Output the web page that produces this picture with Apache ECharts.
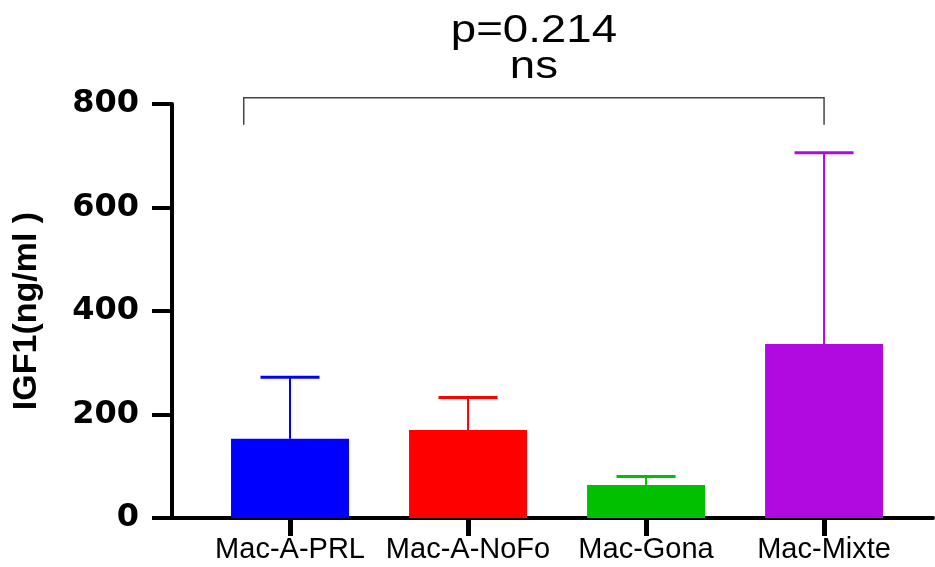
<!DOCTYPE html>
<html>
<head>
<meta charset="utf-8">
<script src="https://cdn.jsdelivr.net/npm/echarts@6/dist/echarts.min.js"></script>
<style>
  html, body { margin: 0; padding: 0; background: #fff; }
  #chart { width: 935px; height: 567px; }
</style>
</head>
<body>
<div id="chart"></div>
<script>
// ---- data ----
const CATEGORIES = ['Mac-A-PRL', 'Mac-A-NoFo', 'Mac-Gona', 'Mac-Mixte'];
const MEANS = [153, 170, 64, 336];
const UPPER = [272, 233, 80, 706];
const COLORS = ['#0000FF', '#FF0000', '#00C000', '#B00AE0'];
const Y_TICKS = [0, 200, 400, 600, 800];
const Y_NAME = 'IGF1(ng/ml )';
const P_TEXT = 'p=0.214';
const SIG_TEXT = 'ns';
// comparison bracket: from x, to x, top value, leg bottom value
const BRACKET = [[-0.26, 3, 812, 760]];

const CAT_POS = CATEGORIES.map((c, i) => i);

const chart = echarts.init(document.getElementById('chart'), null, { renderer: 'canvas' });

const option = {
  backgroundColor: '#ffffff',
  animation: false,
  grid: { left: 172, right: 2, top: 104, bottom: 49, containLabel: false, outerBoundsMode: 'none' },
  xAxis: {
    type: 'value',
    min: -0.663,
    max: 3.612,
    axisLine: { show: true, onZero: false, lineStyle: { color: '#000', width: 4 } },
    axisTick: { show: true, customValues: CAT_POS, length: 18, lineStyle: { color: '#000', width: 5 } },
    axisLabel: {
      customValues: CAT_POS,
      formatter: v => CATEGORIES[Math.round(v)],
      margin: 17,
      color: '#000',
      fontFamily: '"Liberation Sans", Arial, sans-serif',
      fontSize: 29
    },
    splitLine: { show: false }
  },
  yAxis: {
    type: 'value',
    min: Y_TICKS[0],
    max: Y_TICKS[Y_TICKS.length - 1],
    interval: Y_TICKS[1] - Y_TICKS[0],
    name: Y_NAME,
    nameLocation: 'middle',
    nameRotate: 90,
    nameGap: 128,
    nameTextStyle: {
      color: '#000',
      fontFamily: '"Liberation Sans", Arial, sans-serif',
      fontWeight: 'bold',
      fontSize: 34
    },
    axisLine: { show: true, onZero: false, lineStyle: { color: '#000', width: 4 } },
    axisTick: { show: true, length: 20, lineStyle: { color: '#000', width: 4 } },
    axisLabel: {
      margin: 33,
      color: '#000',
      fontFamily: '"DejaVu Sans", sans-serif',
      fontWeight: 'bold',
      fontSize: 32
    },
    splitLine: { show: false }
  },
  series: [
    {
      type: 'bar',
      barWidth: 118,
      data: MEANS.map((m, i) => ({ value: [i, m], itemStyle: { color: COLORS[i] } })),
      z: 2
    },
    {
      type: 'custom',
      clip: false,
      z: 3,
      data: UPPER.map((u, i) => [i, MEANS[i], u]),
      renderItem: function (params, api) {
        const x = api.value(0);
        const p0 = api.coord([x, api.value(1)]);
        const p1 = api.coord([x, api.value(2)]);
        const half = 29.5;
        const color = COLORS[params.dataIndex];
        return {
          type: 'group',
          children: [
            { type: 'line', shape: { x1: p0[0], y1: p0[1], x2: p1[0], y2: p1[1] },
              style: { stroke: color, lineWidth: 2 } },
            { type: 'line', shape: { x1: p1[0] - half, y1: p1[1], x2: p1[0] + half, y2: p1[1] },
              style: { stroke: color, lineWidth: 3 } }
          ]
        };
      }
    },
    {
      type: 'custom',
      clip: false,
      z: 4,
      data: BRACKET,
      renderItem: function (params, api) {
        const a = api.coord([api.value(0), api.value(2)]);
        const b = api.coord([api.value(1), api.value(2)]);
        const aBot = api.coord([api.value(0), api.value(3)]);
        const cx = (a[0] + b[0]) / 2;
        const top = a[1];
        const font = '39px "Liberation Sans", Arial, sans-serif';
        return {
          type: 'group',
          children: [
            { type: 'polyline',
              shape: { points: [[a[0], aBot[1]], [a[0], top], [b[0], top], [b[0], aBot[1]]] },
              style: { stroke: '#444', lineWidth: 1.5, fill: null } },
            { type: 'text', x: cx, y: top - 67, scaleX: 1.17,
              style: { text: P_TEXT, x: 0, y: 0, align: 'center', verticalAlign: 'middle', font: font, fill: '#000' } },
            { type: 'text', x: cx, y: top - 31, scaleX: 1.17,
              style: { text: SIG_TEXT, x: 0, y: 0, align: 'center', verticalAlign: 'middle', font: font, fill: '#000' } }
          ]
        };
      }
    }
  ]
};

chart.setOption(option);
</script>
</body>
</html>
